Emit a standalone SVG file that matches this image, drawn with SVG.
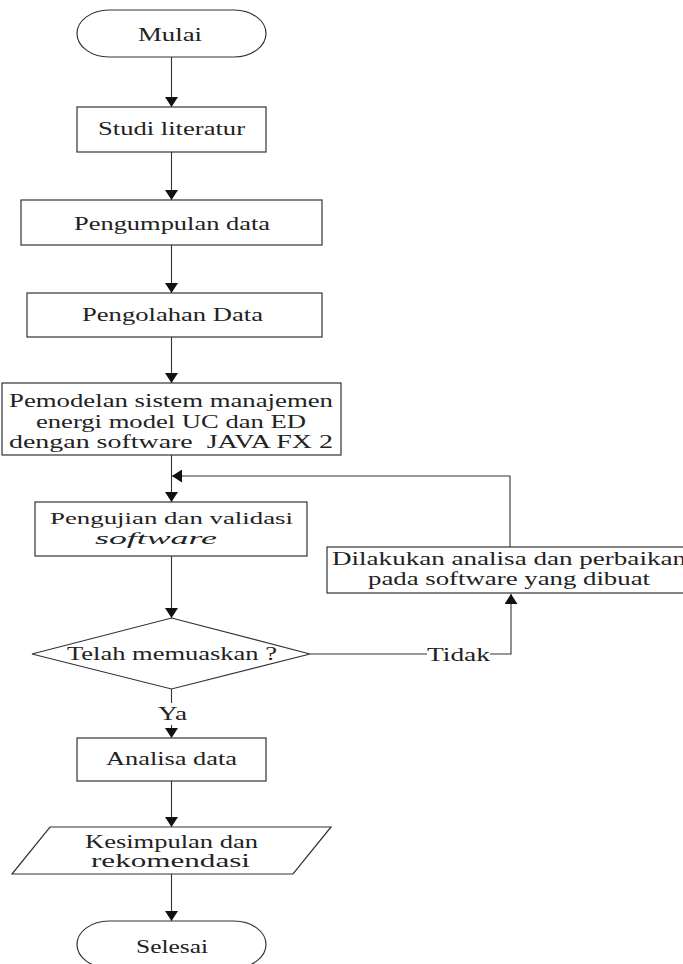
<svg xmlns="http://www.w3.org/2000/svg" width="683" height="964" viewBox="0 0 683 964">
<style>
.s{fill:#fff;stroke:#333;stroke-width:1.2}
.c{fill:none;stroke:#333;stroke-width:1.1}
text{font-family:"Liberation Serif","Times New Roman",serif;font-size:18.5px;fill:#222;text-anchor:middle}
.i{font-style:italic}
.sm{font-size:16.5px}
</style>
<defs>
<marker id="ah" markerUnits="userSpaceOnUse" markerWidth="10" markerHeight="13" refX="10" refY="6.5" orient="auto">
<path d="M0,0 L10,6.5 L0,13 z" fill="#111"/>
</marker>
</defs>
<rect width="683" height="964" fill="#fff"/>
<g id="connectors">
<line class="c" x1="171.5" y1="57" x2="171.5" y2="107" marker-end="url(#ah)"/>
<line class="c" x1="171.5" y1="152" x2="171.5" y2="200" marker-end="url(#ah)"/>
<line class="c" x1="171.5" y1="245" x2="171.5" y2="293" marker-end="url(#ah)"/>
<line class="c" x1="171.5" y1="337" x2="171.5" y2="383" marker-end="url(#ah)"/>
<line class="c" x1="171.5" y1="455" x2="171.5" y2="502" marker-end="url(#ah)"/>
<line class="c" x1="171.5" y1="556" x2="171.5" y2="618" marker-end="url(#ah)"/>
<line class="c" x1="171.5" y1="689" x2="171.5" y2="703"/>
<line class="c" x1="171.5" y1="725" x2="171.5" y2="738" marker-end="url(#ah)"/>
<line class="c" x1="171.5" y1="781" x2="171.5" y2="827" marker-end="url(#ah)"/>
<line class="c" x1="171.5" y1="874" x2="171.5" y2="921" marker-end="url(#ah)"/>
<polyline class="c" points="510,547 510,476 172,476" marker-end="url(#ah)"/>
<line class="c" x1="310" y1="654" x2="427" y2="654"/>
<polyline class="c" points="490,654 511,654 511,594" marker-end="url(#ah)"/>
<text x="458.5" y="661" textLength="63" lengthAdjust="spacingAndGlyphs">Tidak</text>
<text x="172.5" y="720" textLength="29" lengthAdjust="spacingAndGlyphs">Ya</text>
</g>
<g id="mulai">
<rect class="s" x="77" y="10" width="189" height="47" rx="32" ry="23.5"/>
<text x="170" y="41" textLength="64" lengthAdjust="spacingAndGlyphs">Mulai</text>
</g>
<g id="studi">
<rect class="s" x="77" y="107" width="189" height="45"/>
<text x="171.5" y="135" textLength="147" lengthAdjust="spacingAndGlyphs">Studi literatur</text>
</g>
<g id="pengumpulan">
<rect class="s" x="21" y="200" width="301" height="45"/>
<text x="172" y="230" textLength="196" lengthAdjust="spacingAndGlyphs">Pengumpulan data</text>
</g>
<g id="pengolahan">
<rect class="s" x="27" y="293" width="295" height="44"/>
<text x="172.5" y="321" textLength="181" lengthAdjust="spacingAndGlyphs">Pengolahan Data</text>
</g>
<g id="pemodelan">
<rect class="s" x="2" y="383" width="339" height="72"/>
<text x="171" y="407" textLength="324" lengthAdjust="spacingAndGlyphs">Pemodelan sistem manajemen</text>
<text x="171" y="428" textLength="270" lengthAdjust="spacingAndGlyphs">energi model UC dan ED</text>
<text x="171" y="448" textLength="324" lengthAdjust="spacingAndGlyphs" xml:space="preserve">dengan software  JAVA FX 2</text>
</g>
<g id="pengujian">
<rect class="s" x="35" y="502" width="272" height="54"/>
<text class="sm" x="171.5" y="524" textLength="243" lengthAdjust="spacingAndGlyphs">Pengujian dan validasi</text>
<text class="i sm" x="156" y="544" textLength="122" lengthAdjust="spacingAndGlyphs">software</text>
</g>
<g id="dilakukan">
<rect class="s" x="327" y="547" width="360" height="46"/>
<text x="509" y="565" textLength="354" lengthAdjust="spacingAndGlyphs">Dilakukan analisa dan perbaikan</text>
<text x="509" y="585" textLength="282" lengthAdjust="spacingAndGlyphs">pada software yang dibuat</text>
</g>
<g id="decision">
<polygon class="s" points="171.5,618 310,654 171.5,689 32,654"/>
<text x="172" y="660" textLength="210" lengthAdjust="spacingAndGlyphs">Telah memuaskan ?</text>
</g>
<g id="analisa">
<rect class="s" x="77" y="738" width="189" height="43"/>
<text x="171.5" y="765" textLength="131" lengthAdjust="spacingAndGlyphs">Analisa data</text>
</g>
<g id="kesimpulan">
<polygon class="s" points="50,827 331,827 293,874 12,874"/>
<text x="171.5" y="848" textLength="173" lengthAdjust="spacingAndGlyphs">Kesimpulan dan</text>
<text x="170.5" y="867" textLength="159" lengthAdjust="spacingAndGlyphs">rekomendasi</text>
</g>
<g id="selesai">
<rect class="s" x="77" y="921" width="189" height="47" rx="32" ry="23.5"/>
<text x="172" y="953" textLength="72" lengthAdjust="spacingAndGlyphs">Selesai</text>
</g>
</svg>
